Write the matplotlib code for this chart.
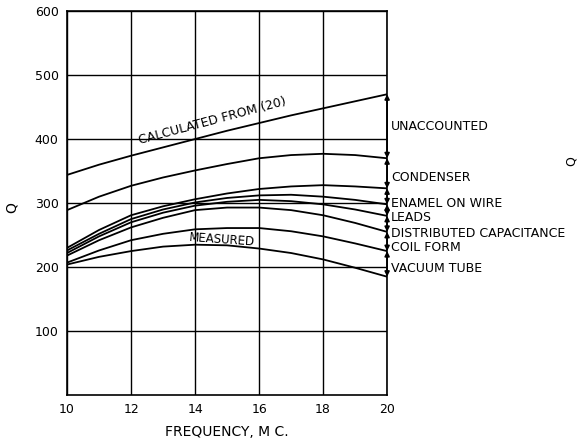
import numpy as np
import matplotlib.pyplot as plt

# --- Data ---
freq = [10, 11, 12, 13, 14, 15, 16, 17, 18, 19, 20]
q_calculated = [344, 360, 374, 387, 400, 413, 425, 437, 448, 459, 470]
q_condenser = [289, 310, 327, 340, 351, 361, 370, 375, 377, 375, 370]
q_enamel = [230, 258, 281, 295, 306, 315, 322, 326, 328, 326, 323]
q_leads = [226, 252, 275, 290, 301, 308, 312, 313, 310, 305, 298]
q_distributed = [222, 248, 270, 285, 296, 302, 305, 303, 298, 290, 280]
q_coil_form = [218, 242, 262, 277, 289, 293, 293, 289, 281, 269, 255]
q_vacuum = [207, 226, 242, 252, 259, 261, 261, 256, 248, 237, 225]
q_measured = [204, 216, 225, 232, 235, 234, 229, 222, 212, 199, 185]

curves = [q_calculated, q_condenser, q_enamel, q_leads,
          q_distributed, q_coil_form, q_vacuum, q_measured]
band_labels = ['UNACCOUNTED', 'CONDENSER', 'ENAMEL ON WIRE', 'LEADS',
               'DISTRIBUTED CAPACITANCE', 'COIL FORM', 'VACUUM TUBE']
band_label_q = [420, 340, 300, 277, 252, 230, 198]

x_ticks = [10, 12, 14, 16, 18, 20]
y_ticks = [100, 200, 300, 400, 500, 600]

# --- Figure ---
fig = plt.figure(figsize=(5.83, 4.41), dpi=100)
ax = fig.add_axes([0.115, 0.104, 0.549, 0.871])

for q in curves:
    ax.plot(freq, q, color='black', linewidth=1.3)

ax.set_xlim(10, 20)
ax.set_ylim(0, 600)
ax.set_xticks(x_ticks)
ax.set_yticks(y_ticks)
ax.grid(True, color='black', linewidth=1.0)
ax.tick_params(length=0, labelsize=9, pad=6)
for s in ax.spines.values():
    s.set_linewidth(1.2)

# arrows between curves at 20 Mc
x_end = freq[-1]
for upper, lower in zip(curves[:-1], curves[1:]):
    ax.annotate('', xy=(x_end, upper[-1]), xytext=(x_end, lower[-1]),
                arrowprops=dict(arrowstyle='<|-|>', color='black', lw=1.2,
                                mutation_scale=7, shrinkA=0, shrinkB=0),
                annotation_clip=False)

for lab, q in zip(band_labels, band_label_q):
    ax.text(20.12, q, lab, fontsize=9, va='center', ha='left', clip_on=False)

ax.text(14.55, 428, 'CALCULATED FROM (20)', fontsize=9, rotation=15,
        ha='center', va='center')
ax.text(14.85, 243, 'MEASURED', fontsize=8.5, rotation=-4,
        ha='center', va='center')

ax.set_xlabel('FREQUENCY, M C.', fontsize=10, labelpad=6)
fig.text(0.02, 0.53, 'Q', fontsize=10, rotation=90, ha='center', va='center')
fig.text(0.98, 0.635, 'Q', fontsize=9, rotation=90, ha='center', va='center')

fig.savefig('out.png', dpi=100)
